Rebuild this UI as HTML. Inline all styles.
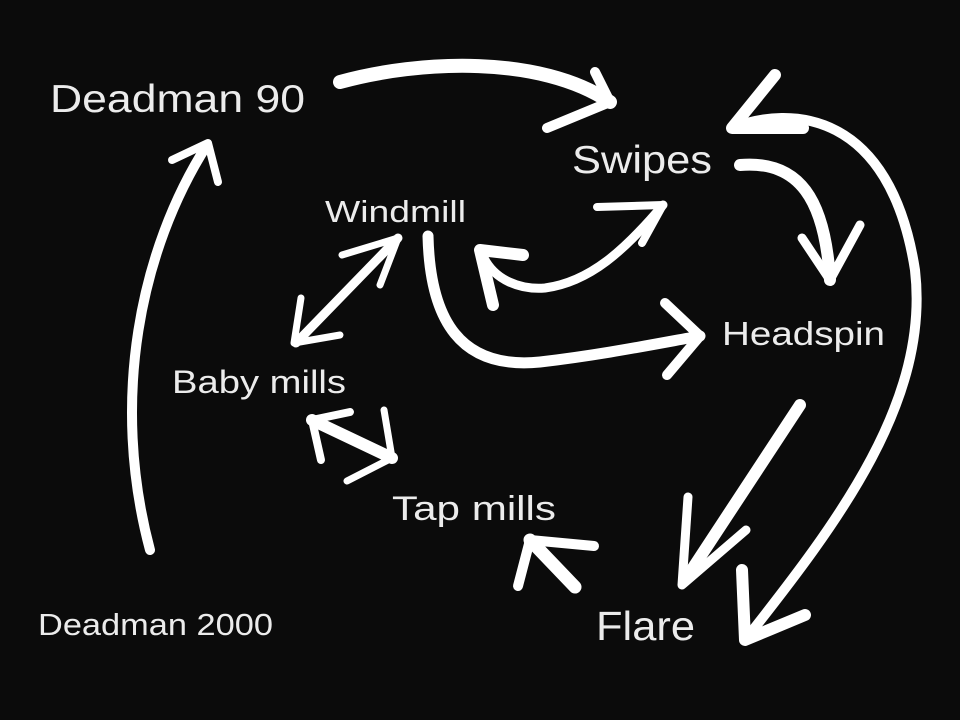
<!DOCTYPE html>
<html><head><meta charset="utf-8"><style>
html,body{margin:0;padding:0;background:#0b0b0b;}
svg{display:block}
text{font-family:"Liberation Sans",sans-serif;fill:#ececec;}
</style></head><body>
<svg width="960" height="720" viewBox="0 0 960 720" xmlns="http://www.w3.org/2000/svg">
<rect width="960" height="720" fill="#0b0b0b"/>
<text x="50" y="112" font-size="39" textLength="255" lengthAdjust="spacingAndGlyphs">Deadman 90</text>
<text x="572" y="173" font-size="39" textLength="140" lengthAdjust="spacingAndGlyphs">Swipes</text>
<text x="325" y="222" font-size="31" textLength="141" lengthAdjust="spacingAndGlyphs">Windmill</text>
<text x="722" y="345" font-size="33" textLength="163" lengthAdjust="spacingAndGlyphs">Headspin</text>
<text x="172" y="393" font-size="32" textLength="174" lengthAdjust="spacingAndGlyphs">Baby mills</text>
<text x="392" y="520" font-size="34" textLength="164" lengthAdjust="spacingAndGlyphs">Tap mills</text>
<text x="38" y="635" font-size="31" textLength="235" lengthAdjust="spacingAndGlyphs">Deadman 2000</text>
<text x="596" y="640" font-size="41" textLength="99" lengthAdjust="spacingAndGlyphs">Flare</text>
<g fill="none" stroke="#fff" stroke-linecap="round" stroke-linejoin="round">
<path d="M340 82 C420 60 540 55 610 102" stroke-width="14"/>
<path d="M595 72 L610 102 L547 128" stroke-width="10"/>
<path d="M150 550 C110 400 140 250 207 145" stroke-width="10"/>
<path d="M172 160 L208 143 L218 182" stroke-width="8"/>
<path d="M732 128 C790 105 890 110 915 270 C930 400 840 520 745 640" stroke-width="10"/>
<path d="M775 75 L732 128 L803 128" stroke-width="12"/>
<path d="M742 570 L745 640 L805 615" stroke-width="12"/>
<path d="M740 165 C800 160 825 200 830 280" stroke-width="12"/>
<path d="M802 238 L830 280 L860 225" stroke-width="9"/>
<path d="M800 405 L685 580" stroke-width="12"/>
<path d="M688 497 L682 585 L746 530" stroke-width="9"/>
<path d="M428 236 C430 320 460 370 540 362 C600 355 650 345 700 336" stroke-width="11"/>
<path d="M665 303 L700 336 L667 375" stroke-width="10"/>
<path d="M484 258 C495 280 520 290 545 288 C590 282 625 250 663 205" stroke-width="9"/>
<path d="M597 207 L663 205 L642 243" stroke-width="8"/>
<path d="M493 305 L480 250 L523 255" stroke-width="12"/>
<path d="M398 238 L296 343" stroke-width="9"/>
<path d="M342 255 L398 238 L380 285" stroke-width="7"/>
<path d="M301 298 L294 343 L340 335" stroke-width="7"/>
<path d="M312 420 L392 458" stroke-width="12"/>
<path d="M321 460 L312 420 L350 412" stroke-width="8"/>
<path d="M384 410 L392 458 L347 481" stroke-width="7"/>
<path d="M575 587 L530 540" stroke-width="13"/>
<path d="M594 546 L530 540 L518 586" stroke-width="10"/>
</g>
</svg>
</body></html>
